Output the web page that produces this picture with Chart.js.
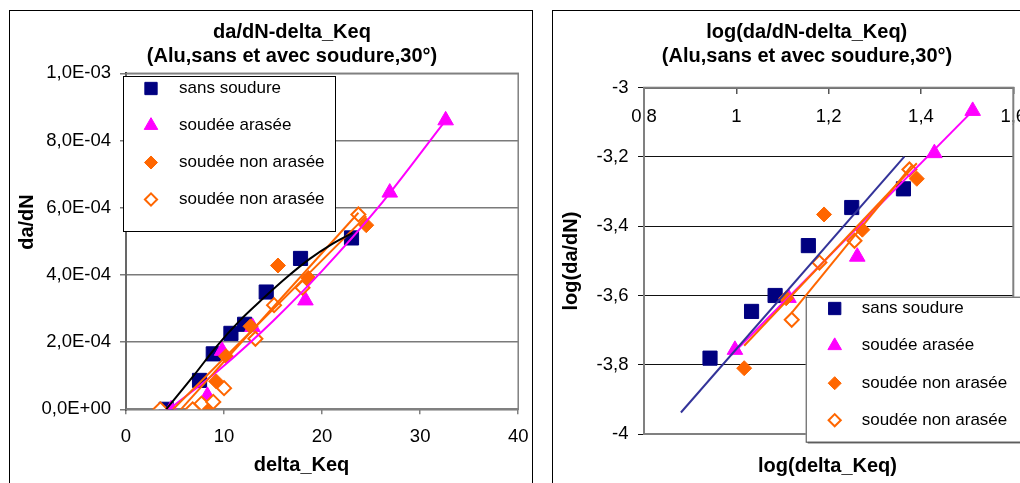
<!DOCTYPE html>
<html>
<head>
<meta charset="utf-8">
<script src="https://cdn.jsdelivr.net/npm/chart.js@4.4.1/dist/chart.umd.min.js"></script>
<style>
  html, body { margin: 0; padding: 0; background: #fff; overflow: hidden; width: 1020px; height: 483px; }
  .frame { position: absolute; border: 1px solid #000; box-sizing: border-box; }
  #frame1 { left: 9px; top: 10px; width: 524px; height: 490px; }
  #frame2 { left: 552px; top: 10px; width: 500px; height: 490px; }
  canvas { position: absolute; top: 0; }
  #chart1 { left: 0; }
  #chart2 { left: 540px; }
</style>
</head>
<body>
<div class="frame" id="frame1"></div>
<div class="frame" id="frame2"></div>
<canvas id="chart1" width="540" height="483"></canvas>
<canvas id="chart2" width="540" height="483"></canvas>
<script>
// ---- data, linear chart (delta_Keq vs da/dN) ----
const sansX = [4.1, 7.5, 8.9, 10.7, 12.1, 14.3, 17.8, 23.0];
const sansY = [0.0, 0.86e-4, 1.65e-4, 2.26e-4, 2.53e-4, 3.49e-4, 4.49e-4, 5.1e-4];
const araseeX = [4.6, 8.3, 9.8, 12.9, 18.3, 26.9, 32.6];
const araseeY = [0.0, 0.4e-4, 1.74e-4, 2.45e-4, 3.24e-4, 6.45e-4, 8.6e-4];
const nonAraseeX = [8.2, 9.2, 10.2, 12.7, 15.5, 18.6, 24.5];
const nonAraseeY = [0.05e-4, 0.83e-4, 1.58e-4, 2.47e-4, 4.28e-4, 3.91e-4, 5.48e-4];
const nonArasee2X = [3.5, 6.8, 7.7, 8.9, 10.0, 13.2, 15.1, 18.0, 23.7];
const nonArasee2Y = [0.0, 0.0, 0.17e-4, 0.22e-4, 0.63e-4, 2.1e-4, 3.1e-4, 3.62e-4, 5.8e-4];

// trend curves
const polySansX = [4.1, 6.9, 9.2, 11.6, 13.8, 16.4, 18.7, 20.8, 23.1];
const polySansY = [0, 1.0e-4, 1.86e-4, 2.64e-4, 3.25e-4, 3.93e-4, 4.47e-4, 4.88e-4, 5.25e-4];
const polyAraseeX = [4.4, 9.6, 15, 20, 25.7, 32.6];
const polyAraseeY = [0, 1.2e-4, 2.63e-4, 4.12e-4, 6.0e-4, 8.6e-4];
const trendNonAraseeX = [4.8, 24.5];
const trendNonAraseeY = [0, 5.75e-4];
const trendNonArasee2X = [5.6, 23.7];
const trendNonArasee2Y = [0, 5.85e-4];

// ---- data, log chart ----
const logSansX = [0.943, 1.033, 1.084, 1.156, 1.250, 1.362];
const logSansY = [-3.781, -3.646, -3.600, -3.456, -3.346, -3.292];
const logAraseeX = [0.997, 1.113, 1.262, 1.429, 1.512];
const logAraseeY = [-3.757, -3.607, -3.488, -3.189, -3.067];
const logNonAraseeX = [1.017, 1.108, 1.190, 1.273, 1.391];
const logNonAraseeY = [-3.810, -3.608, -3.366, -3.410, -3.263];
const logNonArasee2X = [1.120, 1.180, 1.256, 1.375];
const logNonArasee2Y = [-3.670, -3.505, -3.442, -3.236];

const logTrendSansX = [0.880, 1.364];
const logTrendSansY = [-3.938, -3.199];
const logTrendAraseeX = [0.990, 1.512];
const logTrendAraseeY = [-3.771, -3.067];
const logTrendNonAraseeX = [1.017, 1.391];
const logTrendNonAraseeY = [-3.745, -3.218];
const logTrendNonArasee2X = [1.120, 1.380];
const logTrendNonArasee2Y = [-3.650, -3.225];

const seriesNames = ['sans soudure', 'soudée arasée', 'soudée non arasée', 'soudée non arasée'];

const FONT = "'Liberation Sans', Arial, sans-serif";
const NAVY = '#000080', MAGENTA = '#FF00FF', ORANGE = '#FF6600';

const pts = (xs, ys) => xs.map((x, i) => ({ x: x, y: ys[i] }));

// 2.0E-04 style labels
function sci(v) {
  if (Math.abs(v) < 1e-12) return '0,0E+00';
  const parts = v.toExponential(1).split('e');
  const ex = parseInt(parts[1], 10);
  return parts[0].replace('.', ',') + 'E' + (ex < 0 ? '-' : '+') + String(Math.abs(ex)).padStart(2, '0');
}
// 1,2 style labels
function dec(v) {
  return String(Math.round(v * 10) / 10).replace('.', ',');
}

function markers(label, data, style) {
  return Object.assign({ label: label, data: data, showLine: false }, style);
}
function trend(data, color, smooth) {
  return {
    label: '', data: data, showLine: true, pointRadius: 0, pointHoverRadius: 0,
    borderColor: color, borderWidth: 2, fill: false,
    cubicInterpolationMode: smooth ? 'monotone' : 'default'
  };
}

const sqStyle = { pointStyle: 'rect', pointRadius: 10, backgroundColor: NAVY, borderColor: NAVY, borderWidth: 1 };
const triStyle = { pointStyle: 'triangle', pointRadius: 9, backgroundColor: MAGENTA, borderColor: MAGENTA, borderWidth: 1 };
const diaStyle = { pointStyle: 'rectRot', pointRadius: 7.5, backgroundColor: ORANGE, borderColor: ORANGE, borderWidth: 1 };
const hollowStyle = { pointStyle: 'rectRot', pointRadius: 7, backgroundColor: '#fff', borderColor: ORANGE, borderWidth: 2 };

// grey frame around the plot area
const plotBorder = (color, width) => ({
  id: 'plotBorder',
  beforeDatasetsDraw(chart) {
    const a = chart.chartArea, ctx = chart.ctx;
    ctx.save();
    ctx.strokeStyle = color;
    ctx.lineWidth = width;
    ctx.strokeRect(a.left, a.top, a.right - a.left, a.bottom - a.top);
    ctx.restore();
  }
});

// titles placed like the spreadsheet did
const chartText = (items) => ({
  id: 'chartText',
  afterDraw(chart) {
    const ctx = chart.ctx;
    items.forEach(t => {
      ctx.save();
      ctx.font = t.font;
      ctx.fillStyle = '#000';
      ctx.textAlign = 'center';
      ctx.textBaseline = t.rotate ? 'middle' : 'alphabetic';
      ctx.translate(t.x, t.y);
      if (t.rotate) ctx.rotate(-Math.PI / 2);
      ctx.fillText(t.text, 0, 0);
      ctx.restore();
    });
  }
});

// legend box drawn over the plot, markers a bit smaller than in the plot
const boxLegend = (o) => ({
  id: 'boxLegend',
  afterDraw(chart) {
    const ctx = chart.ctx;
    ctx.save();
    if (o.shadow) {
      ctx.fillStyle = '#9a9a9a';
      ctx.fillRect(o.x + 2, o.y + 2, o.w, o.h);
    }
    ctx.fillStyle = '#fff';
    ctx.fillRect(o.x, o.y, o.w, o.h);
    ctx.strokeStyle = o.border;
    ctx.lineWidth = 1;
    ctx.strokeRect(o.x + 0.5, o.y + 0.5, o.w, o.h);
    ctx.font = '17px ' + FONT;
    ctx.textAlign = 'left';
    ctx.textBaseline = 'middle';
    o.items.forEach((idx, i) => {
      const ds = chart.data.datasets[idx];
      const y = o.rows[i];
      ctx.fillStyle = ds.backgroundColor;
      ctx.strokeStyle = ds.borderColor;
      ctx.lineWidth = ds.borderWidth;
      Chart.helpers.drawPoint(ctx, { pointStyle: ds.pointStyle, radius: ds.pointRadius * 0.87, borderWidth: ds.borderWidth, rotation: 0 }, o.markerX, y);
      ctx.fillStyle = '#000';
      ctx.fillText(ds.label, o.textX, y);
    });
    ctx.restore();
  }
});

const tickFont = { family: FONT, size: 18.5 };

// CHART 1 - linear da/dN vs delta_Keq
const chart1 = new Chart('chart1', {
  type: 'scatter',
  data: {
    datasets: [
      trend(pts(polySansX, polySansY), '#000000', true),
      trend(pts(trendNonAraseeX, trendNonAraseeY), ORANGE, false),
      trend(pts(trendNonArasee2X, trendNonArasee2Y), ORANGE, false),
      trend(pts(polyAraseeX, polyAraseeY), MAGENTA, true),
      markers(seriesNames[3], pts(nonArasee2X, nonArasee2Y), hollowStyle),
      markers(seriesNames[2], pts(nonAraseeX, nonAraseeY), diaStyle),
      markers(seriesNames[1], pts(araseeX, araseeY), triStyle),
      markers(seriesNames[0], pts(sansX, sansY), sqStyle)
    ]
  },
  options: {
    responsive: false,
    animation: false,
    devicePixelRatio: 1,
    events: [],
    layout: { padding: { left: 10, right: 21, top: 73.3, bottom: 33.7 } },
    scales: {
      x: {
        type: 'linear', position: 'bottom', min: 0, max: 40,
        ticks: { stepSize: 10, color: '#000', font: tickFont, padding: 11.5, maxRotation: 0 },
        grid: { drawOnChartArea: false, tickLength: 5, color: '#808080', lineWidth: 1.5 },
        border: { color: '#808080', width: 2 },
        afterFit: s => { s.height = 40; }
      },
      y: {
        type: 'linear', min: 0, max: 1e-3,
        ticks: { stepSize: 2e-4, color: '#000', font: tickFont, padding: 9, callback: v => sci(v) },
        grid: { color: '#7a7a7a', lineWidth: 1.5, tickLength: 6 },
        border: { color: '#222', width: 2 },
        afterFit: s => { s.width = 116; }
      }
    },
    plugins: { legend: { display: false }, tooltip: { enabled: false } }
  },
  plugins: [
    plotBorder('#808080', 1.5),
    boxLegend({ x: 123, y: 76, w: 212, h: 155, border: '#000', shadow: false,
      markerX: 151, textX: 179, rows: [88.5, 125.5, 162.5, 199.5], items: [7, 6, 5, 4] }),
    chartText([
      { text: 'da/dN-delta_Keq', x: 292, y: 38, font: 'bold 20px ' + FONT },
      { text: '(Alu,sans et avec soudure,30°)', x: 292, y: 61.5, font: 'bold 20px ' + FONT },
      { text: 'delta_Keq', x: 301.5, y: 471, font: 'bold 20px ' + FONT },
      { text: 'da/dN', x: 27.5, y: 222, font: 'bold 20px ' + FONT, rotate: true }
    ])
  ]
});

// CHART 2 - log(da/dN) vs log(delta_Keq)
const chart2 = new Chart('chart2', {
  type: 'scatter',
  data: {
    datasets: [
      trend(pts(logTrendSansX, logTrendSansY), '#333399', false),
      trend(pts(logTrendNonAraseeX, logTrendNonAraseeY), ORANGE, false),
      trend(pts(logTrendNonArasee2X, logTrendNonArasee2Y), ORANGE, false),
      trend(pts(logTrendAraseeX, logTrendAraseeY), MAGENTA, false),
      markers(seriesNames[3], pts(logNonArasee2X, logNonArasee2Y), hollowStyle),
      markers(seriesNames[2], pts(logNonAraseeX, logNonAraseeY), diaStyle),
      markers(seriesNames[1], pts(logAraseeX, logAraseeY), triStyle),
      markers(seriesNames[0], pts(logSansX, logSansY), sqStyle)
    ]
  },
  options: {
    responsive: false,
    animation: false,
    devicePixelRatio: 1,
    events: [],
    layout: { padding: { left: 10, right: 66.7, top: 87.7, bottom: 49 } },
    scales: {
      x: {
        type: 'linear', position: { y: -3 }, min: 0.8, max: 1.6,
        ticks: { stepSize: 0.2, color: '#000', font: tickFont, padding: 13, maxRotation: 0, callback: v => dec(v) },
        grid: { drawOnChartArea: false, tickLength: 5, color: '#555', lineWidth: 1.5 },
        border: { color: '#555', width: 2 }
      },
      y: {
        type: 'linear', min: -4, max: -3,
        ticks: { stepSize: 0.2, color: '#000', font: tickFont, padding: 9.5, callback: v => dec(v) },
        grid: { color: '#111', lineWidth: 1, tickLength: 6 },
        border: { color: '#222', width: 2 },
        afterFit: s => { s.width = 94; }
      }
    },
    plugins: { legend: { display: false }, tooltip: { enabled: false } }
  },
  plugins: [
    plotBorder('#808080', 2),
    boxLegend({ x: 265.7, y: 296.7, w: 300, h: 145, border: '#444', shadow: true,
      markerX: 294.7, textX: 321.7, rows: [308.5, 345.7, 383.2, 420.2], items: [7, 6, 5, 4] }),
    chartText([
      { text: 'log(da/dN-delta_Keq)', x: 266.7, y: 38, font: 'bold 20px ' + FONT },
      { text: '(Alu,sans et avec soudure,30°)', x: 267, y: 61.5, font: 'bold 20px ' + FONT },
      { text: 'log(delta_Keq)', x: 287.5, y: 472, font: 'bold 20px ' + FONT },
      { text: 'log(da/dN)', x: 31.5, y: 261, font: 'bold 20px ' + FONT, rotate: true }
    ])
  ]
});
</script>
</body>
</html>
